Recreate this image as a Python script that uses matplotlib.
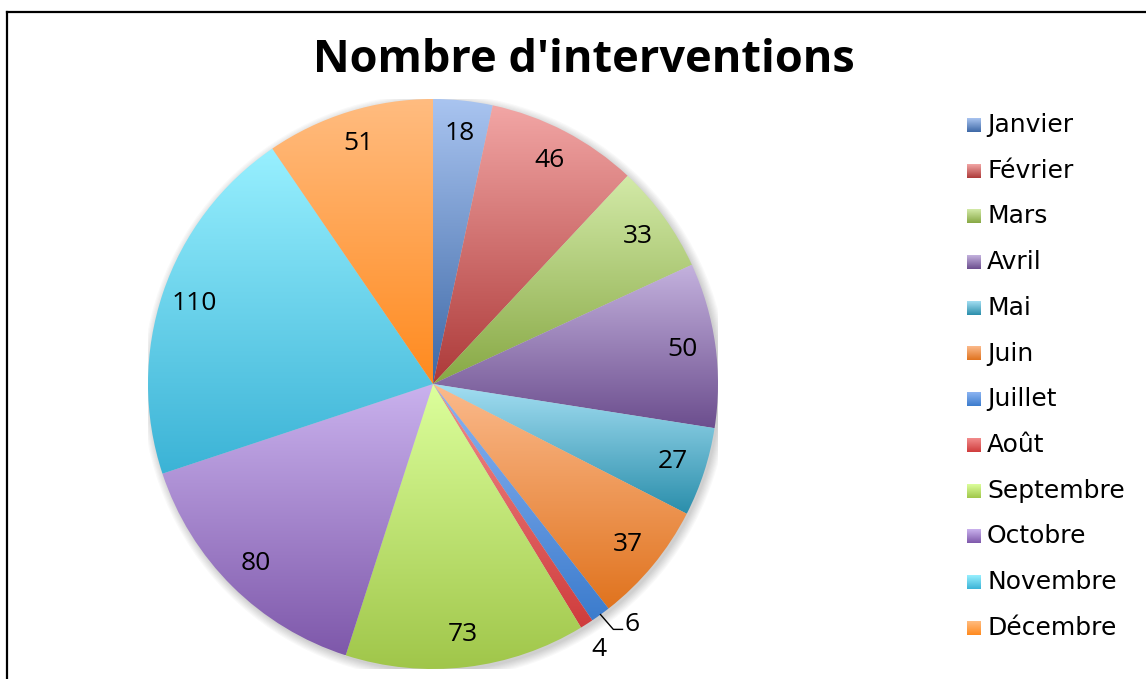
import numpy as np
import matplotlib.pyplot as plt
from matplotlib.colors import to_rgb

plt.rcParams['font.family'] = ['Open Sans', 'DejaVu Sans']

months = ['Janvier', 'Février', 'Mars', 'Avril', 'Mai', 'Juin', 'Juillet',
          'Août', 'Septembre', 'Octobre', 'Novembre', 'Décembre']
values = [18, 46, 33, 50, 27, 37, 6, 4, 73, 80, 110, 51]
top_colors = ['#a9c4f0', '#f2a6a5', '#d3eaa8', '#c4b2de', '#a3def2', '#fbba8c',
              '#8cb4f2', '#f28c8c', '#dcff9c', '#cab2ee', '#98f0ff', '#ffbc80']
bottom_colors = ['#3d68a6', '#ad3a39', '#87a844', '#6c4e8e', '#2a8eab', '#e0731e',
                 '#3c7ccd', '#cf3c3c', '#a0c64a', '#7e58aa', '#3bb3d6', '#ff8a1e']

W, H = 1146, 679
fig = plt.figure(figsize=(W / 100, H / 100), dpi=100)
cx, cy, R = 433, 384, 285
ax = fig.add_axes([(cx - R) / W, (H - cy - R) / H, 2 * R / W, 2 * R / H])
ax.axis('off')


def gradient(top, bottom, n=256):
    t = np.linspace(0, 1, n)[:, None]
    c = (1 - t) * np.array(to_rgb(bottom)) + t * np.array(to_rgb(top))
    return c[:, None, :]


# soft shadow under the pie
for k in range(8):
    ax.add_patch(plt.Circle((0.008, -0.010), 1.0 + k * 0.004, color='black',
                            alpha=0.025, lw=0, zorder=0))

wedges, _ = ax.pie(values, startangle=90, counterclock=False, radius=1,
                   wedgeprops=dict(linewidth=0))
for w, top, bot in zip(wedges, top_colors, bottom_colors):
    w.set_facecolor('none')
    bb = w.get_path().get_extents()
    im = ax.imshow(gradient(top, bot), extent=[bb.x0, bb.x1, bb.y0, bb.y1],
                   origin='lower', aspect='auto', interpolation='bilinear', zorder=2)
    im.set_clip_path(w)

total = sum(values)
cum = np.cumsum([0] + values[:-1])
lab_fs = 19
for v, c in zip(values, cum):
    ang = np.deg2rad(90 - 360 * (c + v / 2) / total)
    if v >= 10:
        r = 0.885
        ax.text(r * np.cos(ang), r * np.sin(ang), str(v), ha='center', va='center',
                fontsize=lab_fs, zorder=5)
    elif v == 6:
        x0, y0 = np.cos(ang), np.sin(ang)
        x1, y1 = x0 + 0.045, y0 - 0.052
        x2 = x1 + 0.032
        ax.plot([x0, x1, x2], [y0, y1, y1], color='black', lw=1, zorder=5, clip_on=False)
        ax.text(x2 + 0.008, y1 + 0.018, str(v), ha='left', va='center', fontsize=lab_fs,
                zorder=5)
    else:
        r = 1.1
        ax.text(r * np.cos(ang) - 0.01, r * np.sin(ang) - 0.005, str(v), ha='center',
                va='center', fontsize=lab_fs, zorder=5)

ax.set_xlim(-1, 1)
ax.set_ylim(-1, 1)
ax.set_aspect('auto')

# overlay in pixel coordinates: frame and legend
ov = fig.add_axes([0, 0, 1, 1])
ov.axis('off')
for i, m in enumerate(months):
    y = 125 + i * 45.7
    ov.imshow(gradient(top_colors[i], bottom_colors[i]), extent=[967, 981, y + 7, y - 7],
              origin='lower', aspect='auto', interpolation='bilinear')
    ov.text(987, y, m, ha='left', va='center', fontsize=18, family='DejaVu Sans')
ov.plot([7, 7], [H + 5, 12], color='black', lw=1.6, solid_capstyle='projecting')
ov.plot([7, W + 5], [12, 12], color='black', lw=1.6, solid_capstyle='projecting')
ov.set_xlim(0, W)
ov.set_ylim(H, 0)

fig.text(584 / W, 1 - 61 / H, "Nombre d'interventions", ha='center', va='center',
         fontsize=32.5, fontweight='bold')

fig.savefig('out.png', dpi=100)
